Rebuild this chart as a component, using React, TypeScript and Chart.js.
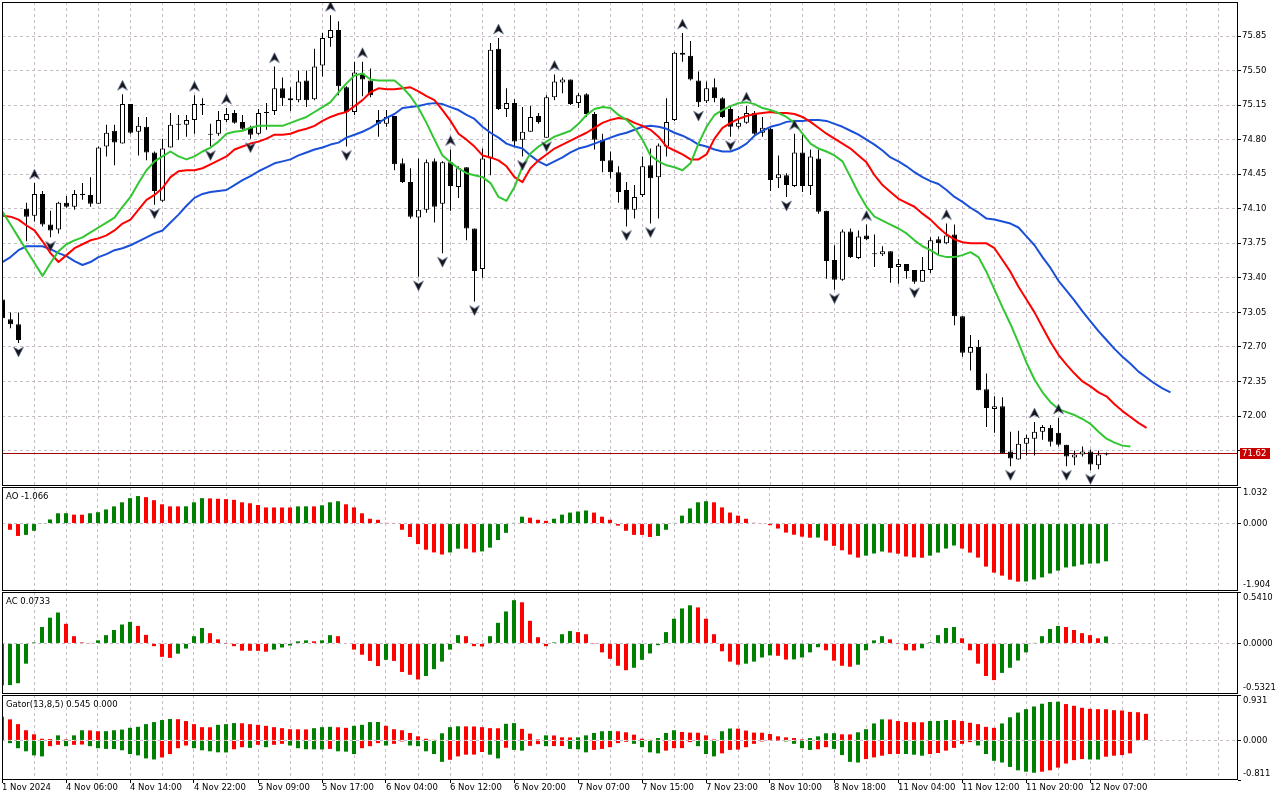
import React, { useEffect, useRef } from 'react';
import { Chart, registerables } from 'chart.js';

Chart.register(...registerables);

// ---- values (H1 bars, one every 8px) ----
const timeLabels = [
  '1 Nov 2024', '4 Nov 06:00', '4 Nov 14:00', '4 Nov 22:00', '5 Nov 09:00', '5 Nov 17:00',
  '6 Nov 04:00', '6 Nov 12:00', '6 Nov 20:00', '7 Nov 07:00', '7 Nov 15:00', '7 Nov 23:00',
  '8 Nov 10:00', '8 Nov 18:00', '11 Nov 04:00', '11 Nov 12:00', '11 Nov 20:00', '12 Nov 07:00',
];
const priceTicks = [71.65, 72.0, 72.35, 72.7, 73.05, 73.4, 73.75, 74.1, 74.45, 74.8, 75.15, 75.5, 75.85];
const priceMin = 71.291;
const priceMax = 76.1945;
const lastPrice = 71.62;

const opens = [
  73.18, 72.98, 72.93, 74.10, 74.03, 74.25, 73.94, 73.89, 74.16, 74.12,
  74.24, 74.24, 74.15, 74.73, 74.89, 74.76, 75.16, 74.88, 74.93, 74.67,
  74.18, 74.72, 74.95, 74.95, 75.00, 75.15, 74.85, 74.86, 75.00, 75.07,
  74.98, 74.92, 74.86, 75.07, 75.09, 75.32, 75.22, 75.20, 75.40, 75.21,
  75.55, 75.83, 75.91, 75.33, 75.08, 75.47, 75.40, 75.00, 74.96, 75.04,
  74.56, 74.37, 74.01, 74.09, 74.58, 74.15, 74.57, 74.32, 74.52, 73.90,
  73.49, 74.61, 75.72, 75.11, 75.17, 74.80, 74.88, 75.04, 74.82, 75.23,
  75.38, 75.41, 75.17, 75.26, 75.06, 74.80, 74.59, 74.47, 74.29, 74.09,
  74.24, 74.54, 74.42, 74.73, 75.00, 75.68, 75.65, 75.40, 75.19, 75.33,
  75.22, 75.11, 74.93, 74.97, 75.07, 74.87, 74.91, 74.41, 74.44, 74.33,
  74.67, 74.33, 74.61, 74.08, 73.58, 73.38, 73.87, 73.60, 73.83, 73.64,
  73.64, 73.67, 73.51, 73.54, 73.48, 73.36, 73.48, 73.79, 73.75, 73.84,
  73.01, 72.64, 72.70, 72.27, 72.07, 72.10, 71.64, 71.56, 71.72, 71.77,
  71.84, 71.88, 71.83, 71.71, 71.58, 71.61, 71.64, 71.50, 71.61,
];
const highs = [
  73.20, 73.05, 73.05, 74.16, 74.36, 74.28, 74.08, 74.17, 74.23, 74.29,
  74.36, 74.42, 74.73, 74.95, 74.95, 75.26, 75.16, 75.03, 75.03, 74.68,
  74.81, 75.07, 75.05, 75.05, 75.25, 75.22, 74.96, 75.09, 75.12, 75.10,
  75.05, 74.94, 75.11, 75.17, 75.54, 75.43, 75.33, 75.50, 75.50, 75.72,
  75.88, 76.06, 76.00, 75.34, 75.59, 75.59, 75.52, 75.10, 75.10, 75.04,
  74.61, 74.51, 74.61, 74.60, 74.61, 74.58, 74.70, 74.53, 74.52, 73.90,
  74.71, 75.78, 75.83, 75.32, 75.21, 75.13, 75.14, 75.07, 75.25, 75.46,
  75.43, 75.41, 75.27, 75.27, 75.08, 74.86, 74.68, 74.53, 74.37, 74.34,
  74.63, 74.71, 74.76, 75.22, 75.69, 75.88, 75.80, 75.49, 75.39, 75.42,
  75.23, 75.13, 75.04, 75.14, 75.09, 75.03, 74.92, 74.64, 74.46, 74.86,
  74.85, 74.70, 74.70, 74.08, 73.73, 73.89, 73.90, 73.88, 73.94, 73.84,
  73.72, 73.67, 73.59, 73.54, 73.48, 73.61, 73.81, 73.82, 73.95, 73.94,
  73.01, 72.82, 72.77, 72.43, 72.20, 72.19, 71.84, 71.85, 71.81, 71.94,
  71.91, 71.91, 71.98, 71.71, 71.65, 71.69, 71.66, 71.65, 71.63,
];
const lows = [
  72.97, 72.89, 72.74, 73.77, 73.97, 73.92, 73.81, 73.85, 74.11, 74.09,
  74.19, 74.12, 74.15, 74.63, 74.54, 74.76, 74.86, 74.64, 74.59, 74.14,
  74.17, 74.72, 74.80, 74.83, 74.86, 75.05, 74.73, 74.84, 74.98, 74.96,
  74.90, 74.81, 74.85, 74.90, 75.05, 75.14, 75.09, 75.18, 75.13, 75.20,
  75.44, 75.74, 75.25, 74.73, 75.05, 75.24, 75.23, 74.83, 74.93, 74.49,
  74.36, 74.00, 73.41, 74.06, 73.96, 73.65, 74.08, 74.21, 73.78, 73.16,
  73.40, 74.44, 75.10, 75.03, 74.73, 74.63, 74.88, 74.96, 74.82, 75.20,
  75.27, 75.15, 75.12, 75.03, 74.70, 74.47, 74.41, 74.16, 73.92, 74.00,
  74.22, 73.95, 74.00, 74.63, 74.99, 75.59, 75.40, 75.13, 75.17, 75.18,
  75.02, 74.83, 74.91, 74.96, 74.85, 74.83, 74.28, 74.31, 74.22, 74.32,
  74.27, 74.24, 74.05, 73.39, 73.28, 73.37, 73.60, 73.59, 73.78, 73.51,
  73.62, 73.35, 73.34, 73.39, 73.34, 73.36, 73.45, 73.63, 73.74, 72.92,
  72.60, 72.46, 72.26, 71.89, 71.83, 71.62, 71.49, 71.56, 71.60, 71.60,
  71.76, 71.69, 71.69, 71.49, 71.50, 71.59, 71.45, 71.46, 71.60,
];
const closes = [
  72.99, 72.93, 72.77, 74.02, 74.25, 73.94, 73.88, 74.16, 74.12, 74.25,
  74.25, 74.15, 74.72, 74.87, 74.77, 75.16, 74.87, 74.94, 74.67, 74.28,
  74.71, 74.95, 74.96, 75.00, 75.16, 75.15, 74.86, 75.00, 75.06, 74.97,
  74.91, 74.85, 75.07, 75.08, 75.32, 75.22, 75.20, 75.39, 75.20, 75.54,
  75.83, 75.91, 75.34, 75.08, 75.48, 75.41, 75.25, 74.96, 75.03, 74.55,
  74.37, 74.02, 74.09, 74.57, 74.12, 74.57, 74.33, 74.51, 73.90, 73.47,
  74.61, 75.71, 75.11, 75.17, 74.78, 74.88, 75.03, 74.98, 75.23, 75.39,
  75.41, 75.16, 75.25, 75.06, 74.80, 74.58, 74.47, 74.27, 74.09, 74.22,
  74.53, 74.41, 74.74, 74.98, 75.68, 75.66, 75.41, 75.18, 75.32, 75.22,
  75.03, 74.93, 74.97, 75.07, 74.86, 74.92, 74.39, 74.45, 74.34, 74.67,
  74.33, 74.63, 74.07, 73.57, 73.38, 73.87, 73.61, 73.82, 73.79, 73.64,
  73.67, 73.50, 73.54, 73.47, 73.36, 73.48, 73.78, 73.75, 73.83, 73.01,
  72.64, 72.70, 72.26, 72.08, 72.10, 71.62, 71.57, 71.72, 71.78, 71.84,
  71.89, 71.74, 71.71, 71.59, 71.61, 71.64, 71.51, 71.61, 71.62,
];

// Alligator lines as drawn (already shifted to the right)
const jaw = [
  73.56, 73.61, 73.68, 73.72, 73.72, 73.72, 73.69, 73.65, 73.62, 73.57,
  73.53, 73.56, 73.61, 73.64, 73.68, 73.70, 73.73, 73.77, 73.81, 73.85,
  73.88, 73.96, 74.04, 74.13, 74.21, 74.25, 74.27, 74.28, 74.29, 74.34,
  74.39, 74.43, 74.48, 74.52, 74.56, 74.58, 74.60, 74.64, 74.67, 74.70,
  74.72, 74.75, 74.77, 74.82, 74.85, 74.88, 74.92, 74.97, 75.02, 75.06,
  75.12, 75.13, 75.14, 75.16, 75.17, 75.16, 75.13, 75.10, 75.05, 75.01,
  74.93, 74.87, 74.82, 74.76, 74.73, 74.71, 74.64, 74.58, 74.54, 74.58,
  74.62, 74.67, 74.71, 74.73, 74.76, 74.79, 74.82, 74.85, 74.87, 74.90,
  74.93, 74.94, 74.93, 74.91, 74.87, 74.84, 74.80, 74.75, 74.73, 74.70,
  74.68, 74.68, 74.71, 74.76, 74.84, 74.89, 74.93, 74.95, 74.98, 74.99,
  74.99, 75.00, 75.00, 74.99, 74.96, 74.93, 74.89, 74.85, 74.80, 74.75,
  74.69, 74.62, 74.58, 74.53, 74.47, 74.42, 74.38, 74.35, 74.29, 74.22,
  74.17, 74.11, 74.06, 74.00, 73.99, 73.97, 73.95, 73.91, 73.82, 73.73,
  73.61, 73.50, 73.37, 73.27, 73.17, 73.06, 72.96, 72.86, 72.77, 72.68,
  72.60, 72.53, 72.45, 72.39, 72.33, 72.28, 72.24,
];
const teeth = [
  74.03, 74.02, 73.99, 73.93, 73.88, 73.77, 73.65, 73.56, 73.63, 73.70,
  73.74, 73.78, 73.80, 73.83, 73.88, 73.95, 73.99, 74.09, 74.19, 74.24,
  74.31, 74.42, 74.48, 74.49, 74.49, 74.51, 74.55, 74.59, 74.63, 74.70,
  74.73, 74.76, 74.78, 74.81, 74.85, 74.85, 74.86, 74.89, 74.91, 74.94,
  74.99, 75.03, 75.06, 75.08, 75.14, 75.20, 75.28, 75.32, 75.31, 75.31,
  75.32, 75.33, 75.29, 75.24, 75.20, 75.10, 74.99, 74.86, 74.80, 74.73,
  74.64, 74.62, 74.59, 74.53, 74.42, 74.37, 74.51, 74.59, 74.65, 74.71,
  74.75, 74.79, 74.83, 74.87, 74.92, 74.97, 75.00, 75.02, 75.01, 74.97,
  74.94, 74.90, 74.83, 74.73, 74.69, 74.65, 74.60, 74.60, 74.65, 74.81,
  74.92, 74.97, 75.01, 75.04, 75.06, 75.07, 75.08, 75.07, 75.07, 75.06,
  75.03, 74.98, 74.92, 74.86, 74.81, 74.76, 74.71, 74.64, 74.57, 74.44,
  74.34, 74.27, 74.20, 74.16, 74.12, 74.05, 73.99, 73.91, 73.84, 73.79,
  73.76, 73.75, 73.75, 73.75, 73.70, 73.58, 73.46, 73.31, 73.18, 73.05,
  72.90, 72.75, 72.62, 72.52, 72.43, 72.35, 72.30, 72.24, 72.20, 72.12,
  72.05, 71.99, 71.93, 71.88,
];
const lips = [
  74.07, 73.94, 73.81, 73.68, 73.55, 73.42, 73.55, 73.67, 73.74, 73.78,
  73.81, 73.86, 73.91, 73.96, 74.01, 74.12, 74.22, 74.36, 74.49, 74.58,
  74.63, 74.68, 74.63, 74.60, 74.63, 74.68, 74.72, 74.78, 74.86, 74.88,
  74.89, 74.92, 74.94, 74.94, 74.94, 74.94, 74.97, 75.00, 75.03, 75.08,
  75.13, 75.18, 75.28, 75.37, 75.45, 75.47, 75.41, 75.40, 75.40, 75.40,
  75.33, 75.24, 75.12, 74.97, 74.80, 74.64, 74.57, 74.51, 74.46, 74.44,
  74.42, 74.36, 74.22, 74.18, 74.32, 74.53, 74.66, 74.73, 74.78, 74.83,
  74.86, 74.89, 74.96, 75.05, 75.11, 75.13, 75.12, 75.05, 75.00, 74.92,
  74.80, 74.64, 74.58, 74.54, 74.52, 74.49, 74.56, 74.76, 74.93, 75.05,
  75.10, 75.14, 75.17, 75.18, 75.16, 75.12, 75.10, 75.07, 75.03, 74.97,
  74.86, 74.76, 74.71, 74.68, 74.64, 74.58, 74.42, 74.26, 74.12, 74.02,
  73.98, 73.94, 73.90, 73.85, 73.78, 73.72, 73.68, 73.63, 73.61, 73.61,
  73.63, 73.66, 73.61, 73.46, 73.28, 73.10, 72.93, 72.74, 72.54, 72.37,
  72.24, 72.14, 72.07, 72.04, 72.01, 71.97, 71.92, 71.84, 71.77, 71.73,
  71.70, 71.69,
];

const fractalUp = [4, 15, 24, 28, 34, 41, 45, 56, 62, 69, 85, 93, 99, 108, 118, 129, 132];
const fractalDown = [2, 6, 19, 26, 31, 43, 52, 55, 59, 65, 68, 78, 81, 87, 91, 98, 104, 114, 126, 133, 136];

const aoValues = [
  null, -0.175, -0.35, -0.32, -0.204, 0.01, 0.116, 0.29, 0.292, 0.252,
  0.25, 0.29, 0.32, 0.398, 0.485, 0.6, 0.717, 0.776, 0.746, 0.66,
  0.543, 0.485, 0.484, 0.487, 0.6, 0.717, 0.71, 0.7, 0.69, 0.67,
  0.6, 0.573, 0.524, 0.456, 0.455, 0.454, 0.453, 0.485, 0.486, 0.484,
  0.515, 0.6, 0.63, 0.543, 0.456, 0.29, 0.136, 0.107, 0.02, 0.01,
  -0.175, -0.379, -0.58, -0.738, -0.815, -0.874, -0.816, -0.709, -0.71, -0.815,
  -0.786, -0.68, -0.466, -0.262, 0.02, 0.194, 0.165, 0.107, 0.078, 0.136,
  0.252, 0.31, 0.34, 0.369, 0.31, 0.194, 0.107, -0.058, -0.204, -0.32,
  -0.321, -0.379, -0.35, -0.175, 0.02, 0.223, 0.427, 0.6, 0.63, 0.6,
  0.456, 0.31, 0.223, 0.136, 0.02, -0.01, -0.045, -0.14, -0.255, -0.315,
  -0.37, -0.4, -0.395, -0.48, -0.63, -0.755, -0.875, -0.96, -0.905, -0.845,
  -0.79, -0.82, -0.85, -0.93, -0.955, -0.965, -0.905, -0.82, -0.705, -0.62,
  -0.705, -0.82, -0.96, -1.215, -1.385, -1.47, -1.585, -1.64, -1.635, -1.58,
  -1.52, -1.41, -1.33, -1.24, -1.21, -1.16, -1.13, -1.125, -1.066,
];
const acValues = [
  -0.44, -0.438, -0.419, -0.213, 0.011, 0.173, 0.271, 0.325, 0.206, 0.076,
  0.011, 0.003, 0.032, 0.087, 0.141, 0.199, 0.227, 0.184, 0.09, -0.029,
  -0.141, -0.152, -0.108, -0.054, 0.076, 0.162, 0.108, 0.043, -0.002, -0.029,
  -0.076, -0.077, -0.078, -0.087, -0.065, -0.043, -0.022, 0.022, 0.032, 0.022,
  0.032, 0.087, 0.076, 0.0, -0.065, -0.119, -0.184, -0.238, -0.173, -0.184,
  -0.3, -0.33, -0.379, -0.343, -0.271, -0.191, -0.065, 0.087, 0.076, -0.029,
  -0.032, 0.076, 0.217, 0.336, 0.455, 0.433, 0.238, 0.065, -0.029, 0.011,
  0.097, 0.13, 0.119, 0.097, -0.002, -0.094, -0.162, -0.235, -0.282, -0.256,
  -0.173, -0.105, -0.018, 0.119, 0.26, 0.368, 0.401, 0.379, 0.26, 0.097,
  -0.083, -0.191, -0.224, -0.213, -0.191, -0.148, -0.126, -0.13, -0.17, -0.168,
  -0.148, -0.094, -0.04, -0.072, -0.181, -0.235, -0.245, -0.224, -0.072, 0.032,
  0.076, 0.043, -0.002, -0.072, -0.074, -0.051, 0.011, 0.087, 0.162, 0.173,
  0.054, -0.072, -0.213, -0.343, -0.386, -0.31, -0.256, -0.18, -0.094, 0.003,
  0.076, 0.152, 0.184, 0.173, 0.141, 0.108, 0.087, 0.054, 0.0733,
];
const gatorUpper = [
  0.487, 0.432, 0.334, 0.209, 0.125, 0.035, 0.028, 0.104, 0.021, 0.104,
  0.209, 0.205, 0.188, 0.19, 0.209, 0.223, 0.258, 0.279, 0.334, 0.376,
  0.418, 0.439, 0.435, 0.397, 0.334, 0.272, 0.27, 0.32, 0.334, 0.355,
  0.352, 0.334, 0.32, 0.299, 0.272, 0.251, 0.23, 0.228, 0.226, 0.251,
  0.272, 0.279, 0.27, 0.258, 0.299, 0.32, 0.376, 0.378, 0.299, 0.23,
  0.209, 0.153, 0.084, 0.035, 0.014, 0.146, 0.272, 0.29, 0.288, 0.286,
  0.272, 0.251, 0.249, 0.341, 0.355, 0.237, 0.139, 0.021, 0.104, 0.102,
  0.063, 0.061, 0.063, 0.104, 0.153, 0.188, 0.195, 0.188, 0.167, 0.118,
  0.035, 0.014, 0.049, 0.153, 0.209, 0.174, 0.16, 0.158, 0.104, 0.021,
  0.188, 0.244, 0.242, 0.202, 0.16, 0.158, 0.132, 0.084, 0.063, 0.049,
  0.021, 0.049, 0.084, 0.146, 0.148, 0.125, 0.123, 0.167, 0.23, 0.348,
  0.432, 0.43, 0.397, 0.376, 0.374, 0.372, 0.397, 0.399, 0.418, 0.416,
  0.397, 0.362, 0.334, 0.279, 0.258, 0.348, 0.474, 0.571, 0.641, 0.696,
  0.752, 0.787, 0.794, 0.745, 0.71, 0.669, 0.648, 0.641, 0.639, 0.62,
  0.613, 0.585, 0.578, 0.545,
];
const gatorLower = [
  null, -0.056, -0.16, -0.223, -0.306, -0.327, -0.118, -0.09, -0.118, -0.09,
  -0.084, -0.118, -0.16, -0.174, -0.176, -0.202, -0.279, -0.306, -0.369, -0.39,
  -0.348, -0.279, -0.16, -0.104, -0.16, -0.202, -0.223, -0.244, -0.246, -0.181,
  -0.139, -0.153, -0.09, -0.139, -0.09, -0.07, -0.104, -0.16, -0.181, -0.183,
  -0.185, -0.174, -0.223, -0.23, -0.279, -0.16, -0.118, -0.056, -0.104, -0.07,
  -0.021, -0.104, -0.118, -0.223, -0.279, -0.439, -0.397, -0.327, -0.292, -0.29,
  -0.237, -0.292, -0.369, -0.15, -0.195, -0.209, -0.111, -0.077, -0.118, -0.116,
  -0.114, -0.174, -0.181, -0.244, -0.195, -0.174, -0.139, -0.056, -0.028, -0.07,
  -0.139, -0.244, -0.265, -0.209, -0.16, -0.158, -0.035, -0.118, -0.279, -0.327,
  -0.265, -0.195, -0.188, -0.139, -0.07, -0.021, -0.007, -0.002, -0.021, -0.07,
  -0.16, -0.195, -0.181, -0.139, -0.174, -0.3, -0.439, -0.453, -0.383, -0.348,
  -0.313, -0.279, -0.277, -0.279, -0.292, -0.313, -0.279, -0.258, -0.209, -0.153,
  -0.07, -0.035, -0.104, -0.279, -0.418, -0.453, -0.543, -0.613, -0.641, -0.662,
  -0.641, -0.613, -0.557, -0.474, -0.404, -0.383, -0.39, -0.392, -0.334, -0.313,
  -0.3, -0.265,
];
const aoRange = [-1.904, 1.032];
const acRange = [-0.5321, 0.541];
const gatorRange = [-0.811, 0.931];

// ---- look ----
const GREEN = '#008000';
const RED = '#ff0000';
const GRID = '#c6bcc6';
const FONT = { family: 'DejaVu Sans', size: 8.5 };
const CSS_FONT = '8.5px "DejaVu Sans"';
const AXIS_W = 42;
const PLOT_W = 1236;
const BAR_PX = 8;

const framePlugin = {
  id: 'mtFrame',
  afterDraw(chart: any) {
    const { ctx, chartArea: a } = chart;
    ctx.save();
    ctx.strokeStyle = '#000';
    ctx.lineWidth = 1;
    ctx.strokeRect(a.left + 0.5, a.top + 0.5, a.right - a.left - 1, a.bottom - a.top - 1);
    ctx.restore();
  },
};

// panel caption and the min / zero / max labels on the right
const textPlugin = {
  id: 'mtText',
  afterDraw(chart: any, _args: any, opts: any) {
    const { ctx, chartArea: a } = chart;
    ctx.save();
    ctx.font = CSS_FONT;
    ctx.fillStyle = '#000';
    ctx.textBaseline = 'middle';
    ctx.textAlign = 'left';
    if (opts.title) ctx.fillText(opts.title, a.left + 4, a.top + 9.5);
    (opts.side || []).forEach((s: any) => {
      const y = Math.min(Math.max(chart.scales.y.getPixelForValue(s.value), a.top + 6), a.bottom - 6.5);
      ctx.fillText(s.text, a.right + 5, y);
    });
    ctx.restore();
  },
};

const pricePlugin = {
  id: 'mtPrice',
  beforeDatasetsDraw(chart: any, _args: any, opts: any) {
    const { ctx, chartArea: a } = chart;
    const y = Math.floor(chart.scales.y.getPixelForValue(opts.value)) + 0.5;
    ctx.save();
    ctx.strokeStyle = '#a00000';
    ctx.lineWidth = 1;
    ctx.beginPath();
    ctx.moveTo(a.left, y);
    ctx.lineTo(a.right, y);
    ctx.stroke();
    ctx.restore();
  },
  afterDraw(chart: any, _args: any, opts: any) {
    const { ctx, chartArea: a } = chart;
    const y = Math.floor(chart.scales.y.getPixelForValue(opts.value));
    ctx.save();
    ctx.fillStyle = '#c80000';
    ctx.fillRect(a.right + 2, y - 5, 30, 11);
    ctx.fillStyle = '#fff';
    ctx.font = CSS_FONT;
    ctx.textBaseline = 'middle';
    ctx.textAlign = 'left';
    ctx.fillText(opts.value.toFixed(2), a.right + 4, y + 0.5);
    ctx.restore();
  },
};

function xAxis(min: number, labelled: boolean) {
  return {
    type: 'linear',
    min,
    max: min + PLOT_W / BAR_PX,
    offset: false,
    afterBuildTicks: (s: any) => {
      const t = [];
      for (let v = 0; v <= s.max; v += 4) t.push({ value: v });
      s.ticks = t;
    },
    afterFit: (s: any) => {
      s.height = labelled ? 20 : 0;
      s.paddingLeft = 0;
      s.paddingRight = 0;
    },
    grid: {
      color: GRID,
      offset: false,
      drawTicks: labelled,
      tickLength: 3,
      tickWidth: 1,
      tickColor: (c: any) =>
        c.tick && c.tick.value % 8 === 0 && timeLabels[c.tick.value / 8] ? '#000' : 'rgba(0,0,0,0)',
    },
    border: { display: false, dash: [3, 3] },
    ticks: {
      display: labelled,
      autoSkip: false,
      maxRotation: 0,
      minRotation: 0,
      align: 'start',
      padding: 0,
      color: '#000',
      font: FONT,
      callback: (v: number) => (v % 8 === 0 && timeLabels[v / 8]) || '',
    },
  };
}

function histY(range: number[]) {
  return {
    type: 'linear',
    position: 'right',
    min: range[0],
    max: range[1],
    afterBuildTicks: (s: any) => {
      s.ticks = [range[0], 0, range[1]].map((value) => ({ value }));
    },
    afterFit: (s: any) => {
      s.width = AXIS_W;
      s.paddingTop = 0;
      s.paddingBottom = 0;
    },
    grid: {
      color: (c: any) => (c.tick && c.tick.value === 0 ? GRID : 'rgba(0,0,0,0)'),
      tickLength: 3,
      tickColor: '#000',
      tickWidth: 1,
    },
    border: { display: false, dash: [3, 3] },
    ticks: { display: false },
  };
}

// MT colouring: green while the bar grows in the given direction, red otherwise
function histDataset(vals: (number | null)[], sign: number, first: string) {
  const data: any[] = [];
  const colors: string[] = [];
  let prev: number | null = null;
  vals.forEach((v, i) => {
    if (v === null) return;
    colors.push(prev === null ? first : sign * (v - prev) > 0 ? GREEN : RED);
    data.push({ x: i, y: v });
    prev = v;
  });
  return {
    type: 'bar',
    data,
    backgroundColor: colors,
    borderWidth: 0,
    barThickness: 4,
    grouped: false,
    inflateAmount: 0,
  };
}

function arrowCanvas(up: boolean) {
  const c = document.createElement('canvas');
  c.width = 11;
  c.height = 34;
  const g = c.getContext('2d')!;
  g.fillStyle = '#15151c';
  g.strokeStyle = '#6a7a9a';
  g.lineWidth = 0.6;
  g.beginPath();
  if (up) {
    g.moveTo(5.5, 3); g.lineTo(10.5, 13); g.lineTo(5.5, 10); g.lineTo(0.5, 13);
  } else {
    g.moveTo(5.5, 31); g.lineTo(10.5, 21); g.lineTo(5.5, 24); g.lineTo(0.5, 21);
  }
  g.closePath();
  g.fill();
  g.stroke();
  return c;
}

function baseOptions(padTop: number, extraPlugins: any) {
  return {
    animation: false,
    responsive: false,
    events: [],
    layout: { autoPadding: false, padding: { left: 2, top: padTop, right: 0, bottom: 0 } },
    plugins: { legend: { display: false }, tooltip: { enabled: false }, ...extraPlugins },
  };
}

const pts = (vals: number[]) => vals.map((y, x) => ({ x, y }));

function mainConfig() {
  const line = (vals: number[], color: string) => ({
    type: 'line',
    data: pts(vals),
    borderColor: color,
    borderWidth: 2,
    pointRadius: 0,
    tension: 0,
    borderJoinStyle: 'round',
    order: 1,
  });
  return {
    type: 'bar',
    data: {
      datasets: [
        {
          type: 'line',
          data: fractalUp.map((i) => ({ x: i, y: highs[i] })),
          showLine: false,
          pointStyle: arrowCanvas(true),
          pointRadius: 3,
          order: 0,
        },
        {
          type: 'line',
          data: fractalDown.map((i) => ({ x: i, y: lows[i] })),
          showLine: false,
          pointStyle: arrowCanvas(false),
          pointRadius: 3,
          order: 0,
        },
        line(lips, '#33c633'),
        line(teeth, '#ff0000'),
        line(jaw, '#1a50d8'),
        {
          type: 'bar',
          data: opens.map((o, i) => ({ x: i, y: [o, closes[i]] })),
          backgroundColor: opens.map((o, i) => (closes[i] >= o ? '#ffffff' : '#000000')),
          borderColor: '#000',
          borderWidth: 1,
          borderSkipped: false,
          barThickness: 5,
          minBarLength: 1,
          grouped: false,
          inflateAmount: 0,
          order: 2,
        },
        {
          type: 'bar',
          data: lows.map((l, i) => ({ x: i, y: [l, highs[i]] })),
          backgroundColor: '#000',
          borderWidth: 0,
          barThickness: 1,
          minBarLength: 1,
          grouped: false,
          inflateAmount: 0,
          order: 3,
        },
      ],
    },
    options: {
      ...baseOptions(2, { mtPrice: { value: lastPrice } }),
      scales: {
        x: xAxis(-0.0625, false),
        y: {
          type: 'linear',
          position: 'right',
          min: priceMin,
          max: priceMax,
          afterBuildTicks: (s: any) => {
            s.ticks = priceTicks.map((value) => ({ value }));
          },
          afterFit: (s: any) => {
            s.width = AXIS_W;
            s.paddingTop = 0;
            s.paddingBottom = 0;
          },
          grid: { color: GRID, tickLength: 3, tickColor: '#000', tickWidth: 1 },
          border: { display: false, dash: [3, 3] },
          ticks: {
            color: '#000',
            font: FONT,
            padding: 1,
            callback: (v: number) => (v < 72 ? '' : v.toFixed(2)),
          },
        },
      },
    },
    plugins: [framePlugin, pricePlugin],
  };
}

function sideLabels(range: number[], digits: number) {
  return [range[1], 0, range[0]].map((value) => ({ value, text: value.toFixed(digits) }));
}

function aoConfig() {
  return {
    type: 'bar',
    data: { datasets: [histDataset(aoValues, 1, RED)] },
    options: {
      ...baseOptions(0, { mtText: { title: 'AO -1.066', side: sideLabels(aoRange, 3) } }),
      scales: { x: xAxis(0, false), y: histY(aoRange) },
    },
    plugins: [framePlugin, textPlugin],
  };
}

function acConfig() {
  return {
    type: 'bar',
    data: { datasets: [histDataset(acValues, 1, GREEN)] },
    options: {
      ...baseOptions(0, { mtText: { title: 'AC 0.0733', side: sideLabels(acRange, 4) } }),
      scales: { x: xAxis(0, false), y: histY(acRange) },
    },
    plugins: [framePlugin, textPlugin],
  };
}

function gatorConfig() {
  return {
    type: 'bar',
    data: {
      datasets: [histDataset(gatorUpper, 1, RED), histDataset(gatorLower, -1, GREEN)],
    },
    options: {
      ...baseOptions(0, {
        mtText: { title: 'Gator(13,8,5) 0.545 0.000', side: sideLabels(gatorRange, 3) },
      }),
      scales: { x: xAxis(0, true), y: histY(gatorRange) },
    },
    plugins: [framePlugin, textPlugin],
  };
}

const Panel: React.FC<{ top: number; height: number; build: () => any }> = ({ top, height, build }) => {
  const canvasRef = useRef<HTMLCanvasElement | null>(null);

  useEffect(() => {
    const ctx = canvasRef.current?.getContext('2d');
    if (!ctx) return;
    const chart = new Chart(ctx, build());
    return () => {
      chart.destroy();
    };
  }, [build]);

  return (
    <canvas
      ref={canvasRef}
      width={1280}
      height={height}
      style={{ position: 'absolute', left: 0, top, width: 1280, height }}
    />
  );
};

const App: React.FC = () => (
  <div
    style={{
      position: 'absolute',
      left: 0,
      top: 0,
      width: 1280,
      height: 800,
      background: '#fff',
      overflow: 'hidden',
    }}
  >
    <Panel top={0} height={486} build={mainConfig} />
    <Panel top={487} height={104} build={aoConfig} />
    <Panel top={592} height={102} build={acConfig} />
    <Panel top={695} height={105} build={gatorConfig} />
  </div>
);

export default App;
